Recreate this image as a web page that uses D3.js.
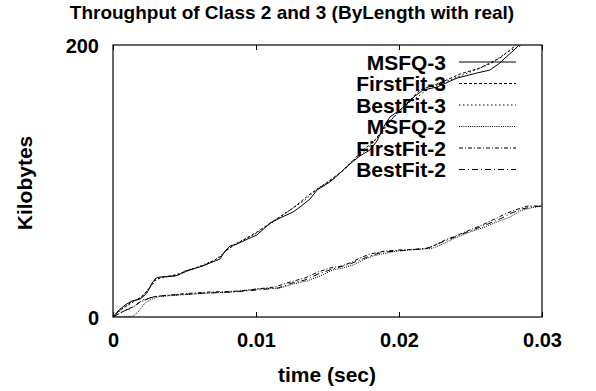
<!DOCTYPE html>
<html>
<head>
<meta charset="utf-8">
<script src="https://cdn.jsdelivr.net/npm/d3@7"></script>
<style>
  body { margin: 0; background: #fff; }
  text { font-family: "Liberation Sans", Arial, sans-serif; font-weight: bold; fill: #000; }
</style>
</head>
<body>
<script>
// throughput curves, time in seconds, kilobytes received
var msfq3T = [0,0.00035,0.00084,0.00133,0.00189,0.00224,0.00245,0.00273,0.00301,0.00329,0.00434,0.00469,0.00503,0.00608,0.00678,0.00748,0.00783,0.00818,0.00867,0.00958,0.01007,0.01098,0.01168,0.01259,0.01308,0.01378,0.01427,0.01517,0.01587,0.01657,0.01727,0.01797,0.01846,0.01888,0.01937,0.02007,0.02056,0.02112,0.02168,0.02266,0.02406,0.02545,0.02636,0.02706,0.02741,0.02790,0.02840];
var msfq3Y = [0,4.4,8.8,11.8,13.2,16.2,19.1,25.0,28.7,29.4,30.1,31.6,33.8,36.8,39.7,42.6,48.5,52.2,53.7,58.1,60.3,69.1,72.8,77.2,80.9,86.8,93.4,99.3,105.9,112.5,118.4,122.8,129.4,139.0,147.1,152.2,156.6,162.5,166.9,169.1,175.7,179.4,181.6,186.8,190.4,194.9,200];

var first3T = [0,0.00049,0.00119,0.00189,0.00245,0.00294,0.00343,0.00455,0.00538,0.00643,0.00748,0.00804,0.00888,0.01007,0.01133,0.01259,0.01378,0.01483,0.01622,0.01727,0.01832,0.01916,0.02007,0.02147,0.02287,0.02427,0.02566,0.02706,0.0282];
var first3Y = [0,5.1,10.3,14.0,19.9,27.2,29.4,30.9,34.6,38.2,44.1,50.0,55.1,62.5,71.3,80.1,90.4,97.8,108.8,120.6,130.1,141.9,152.2,166.9,172.1,178.7,183.1,190.4,200];

var best3T = [0,0.00063,0.0014,0.0021,0.00259,0.00308,0.00399,0.00503,0.00608,0.00713,0.00783,0.00853,0.01007,0.01098,0.01238,0.01343,0.01434,0.01552,0.01657,0.01762,0.01867,0.01958,0.02077,0.02217,0.02357,0.02497,0.02636,0.02760,0.02860];
var best3Y = [0,5.9,11.0,15.4,22.1,27.9,30.1,33.1,37.5,41.9,47.8,53.7,61.8,68.4,78.7,86.0,94.9,102.2,113.2,122.1,133.8,146.3,158.1,168.4,174.3,180.1,186.0,194.9,200];

var msfq2T = [0,0.00063,0.0014,0.00175,0.00203,0.00224,0.00259,0.00308,0.00364,0.00469,0.00678,0.00818,0.01007,0.01168,0.01259,0.01357,0.01448,0.01538,0.01608,0.01678,0.01748,0.01818,0.01916,0.01986,0.02077,0.02238,0.02322,0.02392,0.02497,0.02601,0.02685,0.02776,0.02846,0.02916,0.03];
var msfq2Y = [0,0,0.7,3.7,7.4,10.3,12.5,14.7,15.4,16.2,17.6,18.4,20.6,21.3,24.3,26.5,30.1,34.6,36.0,38.2,41.9,44.9,47.1,48.5,49.3,50.7,54.4,58.1,62.5,66.2,69.9,73.5,77.9,80.1,81.6];

var first2T = [0,0.00049,0.00105,0.00154,0.00189,0.00224,0.00273,0.00329,0.00469,0.00678,0.00888,0.01007,0.01133,0.01238,0.01343,0.01434,0.01517,0.01601,0.01671,0.01727,0.01797,0.01902,0.02007,0.02182,0.02252,0.02322,0.02413,0.02497,0.02580,0.02671,0.02741,0.02811,0.02902,0.03];
var first2Y = [0,2.9,5.9,8.1,11.0,12.5,14.7,15.4,16.9,18.4,19.1,20.6,22.1,25.7,28.7,33.1,36.0,37.5,40.4,43.4,46.3,48.5,49.3,50.0,52.9,56.6,60.3,64.0,67.6,72.1,75.7,78.7,81.6,81.6];

var best2T = [0,0.00035,0.00091,0.00133,0.00168,0.0021,0.00259,0.00315,0.00434,0.00643,0.00853,0.01007,0.01154,0.01252,0.01343,0.01434,0.01517,0.01587,0.01657,0.01727,0.01797,0.01888,0.01993,0.02203,0.02287,0.02357,0.02441,0.02532,0.02622,0.02706,0.02790,0.02860,0.02930,0.03];
var best2Y = [0,2.2,5.1,6.6,9.6,12.5,14.0,15.4,16.2,17.6,18.4,19.9,21.3,25.0,27.2,31.6,34.6,36.8,39.0,41.9,44.9,47.8,48.5,50.7,54.4,57.4,61.0,64.7,68.4,72.1,76.5,79.4,80.9,81.6];

var seriesNames = ["MSFQ-3","FirstFit-3","BestFit-3","MSFQ-2","FirstFit-2","BestFit-2"];
var seriesT = [msfq3T, first3T, best3T, msfq2T, first2T, best2T];
var seriesY = [msfq3Y, first3Y, best3Y, msfq2Y, first2Y, best2Y];
var dashes = ["none", "3,2", "1.5,2.5", "1,1.2", "4,2,1,2", "6,3,1,3"];

var xTicks = [0, 0.01, 0.02, 0.03];
var yTicks = [0, 200];

var W = 596, H = 391;
var svg = d3.select("body").append("svg").attr("width", W).attr("height", H);

var x = d3.scaleLinear().domain([0, 0.03]).range([113, 542]);
var y = d3.scaleLinear().domain([0, 200]).range([317, 45]);

svg.append("defs").append("clipPath").attr("id", "plot")
  .append("rect").attr("x", 113).attr("y", 45).attr("width", 429).attr("height", 272);

// title and axis labels
svg.append("text").attr("x", 292).attr("y", 19).attr("text-anchor", "middle")
  .style("font-size", "19px").text("Throughput of Class 2 and 3 (ByLength with real)");
svg.append("text").attr("transform", "translate(32,183) rotate(-90)").attr("text-anchor", "middle")
  .style("font-size", "21px").text("Kilobytes");
svg.append("text").attr("x", 327).attr("y", 382).attr("text-anchor", "middle")
  .style("font-size", "21px").text("time (sec)");

// axes, ticks pointing inward like gnuplot
var xb = svg.append("g").attr("transform", "translate(0,317)")
  .call(d3.axisBottom(x).tickValues(xTicks).tickSize(-5).tickFormat(d3.format("")));
var xt = svg.append("g").attr("transform", "translate(0,45)")
  .call(d3.axisTop(x).tickValues(xTicks).tickSize(-5).tickFormat(""));
var yl = svg.append("g").attr("transform", "translate(113,0)")
  .call(d3.axisLeft(y).tickValues(yTicks).tickSize(0).tickPadding(14));
[xb, xt, yl].forEach(function(g){
  g.select(".domain").remove();
  g.selectAll("line").attr("stroke", "#000");
  g.selectAll("text").style("font-size", "20px").style("font-family", null);
});
xb.selectAll("text").attr("y", 30).attr("dy", 0);
yl.selectAll("text").attr("dy", "0.36em");

svg.append("rect").attr("x", 113).attr("y", 45).attr("width", 429).attr("height", 272)
  .attr("fill", "none").attr("stroke", "#000").attr("stroke-width", 1.2);

// legend
var legend = svg.append("g");
seriesNames.forEach(function(name, i){
  var ly = 62 + i * 21.5;
  legend.append("text").attr("x", 446).attr("y", ly).attr("dy", "0.36em")
    .attr("text-anchor", "end").style("font-size", "21px").text(name);
  legend.append("line").attr("x1", 459).attr("x2", 516).attr("y1", ly).attr("y2", ly)
    .attr("stroke", "#000").attr("stroke-width", 1).attr("stroke-dasharray", dashes[i]);
});

// curves
var line = d3.line().x(function(d){ return x(d[0]); }).y(function(d){ return y(d[1]); });
var curves = svg.append("g").attr("clip-path", "url(#plot)");
seriesNames.forEach(function(name, i){
  var pts = d3.zip(seriesT[i], seriesY[i]);
  curves.append("path").attr("d", line(pts))
    .attr("fill", "none").attr("stroke", "#000").attr("stroke-width", 1)
    .attr("stroke-dasharray", dashes[i]);
});
</script>
</body>
</html>
